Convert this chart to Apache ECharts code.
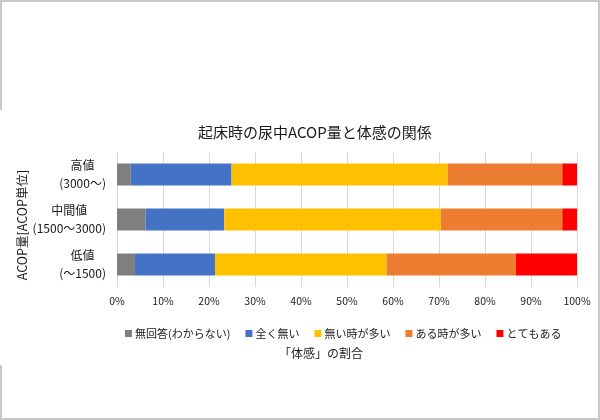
<!DOCTYPE html>
<html>
<head>
<meta charset="utf-8">
<script src="https://cdn.jsdelivr.net/npm/echarts@6/dist/echarts.min.js"></script>
<style>
html,body{margin:0;padding:0;background:#fff;}
#c{width:600px;height:420px;}
</style>
</head>
<body>
<div id="c"></div>
<script>
var categories = ['高値\n(3000〜)', '中間値\n(1500〜3000)', '低値\n(〜1500)'];
var seriesNames = ['無回答(わからない)', '全く無い', '無い時が多い', 'ある時が多い', 'とてもある'];
var noAnswer = [3.0, 6.2, 3.9];
var never = [21.9, 17.1, 17.4];
var rarely = [47.0, 47.1, 37.3];
var often = [24.9, 26.4, 28.1];
var always = [3.2, 3.2, 13.3];
var xTicks = [0, 10, 20, 30, 40, 50, 60, 70, 80, 90, 100];
var colors = ['#7f7f7f', '#4472c4', '#ffc000', '#ed7d31', '#ff0000'];

var values = [noAnswer, never, rarely, often, always];
var font = '"Noto Sans CJK JP", "Noto Sans", sans-serif';
var chart = echarts.init(document.getElementById('c'));
chart.setOption({
  animation: false,
  textStyle: {fontFamily: font},
  title: {
    text: '起床時の尿中ACOP量と体感の関係',
    left: 193, top: 120,
    textStyle: {fontSize: 15, fontWeight: 'normal', color: '#1a1a1a', fontFamily: font}
  },
  legend: {
    data: seriesNames,
    left: 120, top: 323,
    itemWidth: 7, itemHeight: 7, itemGap: 15,
    icon: 'rect',
    textStyle: {fontSize: 11, color: '#1a1a1a', fontFamily: font, padding: [0, 0, 0, -2]}
  },
  grid: {left: 117, right: 23, top: 152, bottom: 133, containLabel: false},
  xAxis: {
    type: 'value', min: 0, max: 100, interval: 10,
    axisLine: {show: false}, axisTick: {show: false},
    splitLine: {lineStyle: {color: '#d9d9d9', width: 1}},
    axisLabel: {fontSize: 10.5, color: '#1a1a1a', margin: 9, formatter: function (v) { return xTicks.indexOf(v) >= 0 ? v + '%' : ''; }}
  },
  yAxis: {
    type: 'category', data: categories, inverse: true,
    axisLine: {show: false}, axisTick: {show: false},
    axisLabel: {
      margin: 11, align: 'right',
      formatter: function (v) {
        return v.split('\n').map(function (s) { return '{c|' + s + '}'; }).join('\n');
      },
      rich: {c: {align: 'center', fontSize: 12, lineHeight: 18, color: '#1a1a1a', fontFamily: font}}
    }
  },
  series: seriesNames.map(function (n, i) {
    return {
      name: n, type: 'bar', stack: 'total', barWidth: 22,
      itemStyle: {color: colors[i]},
      data: values[i]
    };
  }),
  graphic: [
    {type: 'text', x: 22, y: 225, rotation: Math.PI / 2,
     style: {text: 'ACOP量[ACOP単位]', fontSize: 12.5, fill: '#1a1a1a', fontFamily: font, align: 'center', verticalAlign: 'middle'}},
    {type: 'text', left: 279, top: 347, style: {text: '「体感」の割合', fontSize: 12, fill: '#1a1a1a', fontFamily: font}},
    {type: 'line', shape: {x1: 0, y1: 1, x2: 600, y2: 1}, style: {stroke: '#c8c8c8', lineWidth: 2}},
    {type: 'line', shape: {x1: 0, y1: 419, x2: 600, y2: 419}, style: {stroke: '#c8c8c8', lineWidth: 2}},
    {type: 'line', shape: {x1: 599, y1: 0, x2: 599, y2: 420}, style: {stroke: '#c8c8c8', lineWidth: 2}},
    {type: 'line', shape: {x1: 1, y1: 0, x2: 1, y2: 110}, style: {stroke: '#c8c8c8', lineWidth: 2}},
    {type: 'line', shape: {x1: 1, y1: 365, x2: 1, y2: 420}, style: {stroke: '#c8c8c8', lineWidth: 2}}
  ]
});
</script>
</body>
</html>
